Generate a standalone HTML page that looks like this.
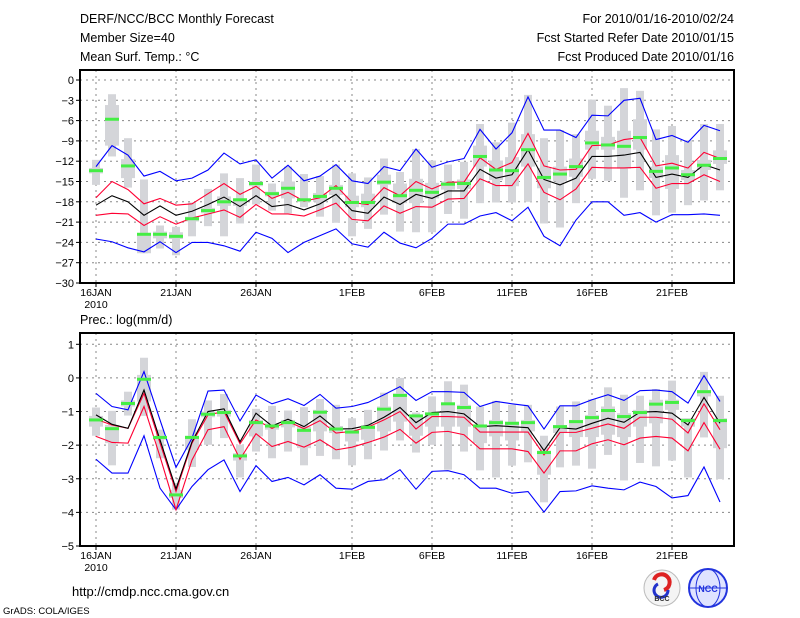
<!DOCTYPE html>
<html><head><meta charset="utf-8"><style>
html,body{margin:0;padding:0;background:#fff;}
svg{display:block;font-family:"Liberation Sans",sans-serif;}
</style></head><body>
<svg id="chart" width="800" height="618" viewBox="0 0 800 618">
<g id="hdr" font-size="12.5" fill="#000">
<text x="80" y="23">DERF/NCC/BCC Monthly Forecast</text>
<text x="80" y="42">Member Size=40</text>
<text x="80" y="61">Mean Surf. Temp.: °C</text>
<text x="734" y="23" text-anchor="end">For 2010/01/16-2010/02/24</text>
<text x="734" y="42" text-anchor="end">Fcst Started Refer Date 2010/01/15</text>
<text x="734" y="61" text-anchor="end">Fcst Produced Date 2010/01/16</text>
<text x="80" y="324">Prec.: log(mm/d)</text>
<text x="72" y="596" font-size="13">http://cmdp.ncc.cma.gov.cn</text>
<text x="3" y="614" font-size="9.5">GrADS: COLA/IGES</text>
</g>
<g>
<circle cx="662" cy="588" r="18" fill="#f4f4f4" stroke="#bbb"/>
<path d="M654 580 a8 8 0 1 1 10 10" fill="none" stroke="#d22" stroke-width="4"/>
<path d="M668 590 a7 7 0 1 1 -10 -6" fill="none" stroke="#23c" stroke-width="3"/>
<text x="662" y="601" font-size="7" text-anchor="middle" font-weight="bold" fill="#333">BCC</text>
</g>
<g>
<circle cx="708" cy="588" r="19" fill="#dfe3ff" stroke="#2233dd" stroke-width="2"/>
<ellipse cx="708" cy="588" rx="12" ry="19" fill="none" stroke="#2233dd"/>
<line x1="689" y1="588" x2="727" y2="588" stroke="#2233dd"/>
<text x="708" y="592" font-size="9" text-anchor="middle" font-weight="bold" fill="#2233dd">NCC</text>
</g>
</svg>
<script>
// ---- temperature data (°C) ----
const days = ["16JAN","17JAN","18JAN","19JAN","20JAN","21JAN","22JAN","23JAN","24JAN","25JAN","26JAN","27JAN","28JAN","29JAN","30JAN","31JAN","1FEB","2FEB","3FEB","4FEB","5FEB","6FEB","7FEB","8FEB","9FEB","10FEB","11FEB","12FEB","13FEB","14FEB","15FEB","16FEB","17FEB","18FEB","19FEB","20FEB","21FEB","22FEB","23FEB","24FEB"];
const xTickLabels = ["16JAN","21JAN","26JAN","1FEB","6FEB","11FEB","16FEB","21FEB"];
const xTickIndex = [0,5,10,16,21,26,31,36];
const tTicks = [0,-3,-6,-9,-12,-15,-18,-21,-24,-27,-30];
const tMean = [-18.5,-17.1,-18,-20,-18.6,-20,-19.4,-18.4,-17.3,-18.7,-17.1,-18.7,-18.4,-19.2,-18.3,-16.9,-19.3,-19.7,-17.3,-18.4,-16.9,-17.5,-16.4,-16.4,-13.2,-14.5,-14,-10.3,-14.7,-15.5,-14.5,-11.3,-11.3,-11.1,-10.7,-14.4,-13.9,-14.4,-12.5,-13.3];
const tRedHi = [-17.4,-15,-16.2,-18.3,-17.5,-18.5,-18.3,-16.8,-15.3,-16.9,-15.7,-17.5,-16.6,-17.9,-17.4,-15.6,-18.1,-18.4,-15.9,-17.1,-15,-16.1,-15.1,-15.1,-11.5,-13.2,-12.2,-7.9,-12.7,-13.3,-13.2,-9.7,-9.6,-8.8,-8.5,-12.7,-12.3,-13,-10.7,-11.6];
const tRedLo = [-20,-19.7,-19.8,-21.5,-20.2,-21.3,-20.4,-19.8,-19.2,-20.3,-18.4,-19.8,-19.8,-20.1,-19.2,-18.2,-20.6,-20.8,-18.6,-19.7,-18.7,-18.8,-17.6,-17.5,-14.6,-15.6,-15.6,-12.4,-16.6,-17.7,-16.1,-12.9,-13,-13,-12.9,-16,-15.3,-15.3,-14,-15];
const tBlueHi = [-12.8,-9.7,-11.1,-14.2,-13.5,-14.9,-14.5,-13.3,-10.8,-12.4,-11.8,-14.5,-12.6,-14.9,-14.2,-12.5,-14.9,-15.3,-12.8,-13.4,-10.2,-12.9,-12.1,-11.6,-7.3,-10.2,-7.8,-2.5,-7.4,-7.4,-8.5,-5.2,-5.3,-3,-2.7,-8.8,-8.2,-9.2,-6.7,-7.5];
const tBlueLo = [-23.5,-23.9,-24.8,-25.4,-23.9,-25.5,-24,-24,-24.5,-25.3,-22.5,-23.4,-25.5,-24,-23,-22,-24.2,-24.7,-22.5,-24.1,-24.8,-23.4,-21.3,-21.3,-20.1,-19.6,-20.8,-18.8,-23.1,-24.5,-20.7,-18,-18,-20,-19.6,-21,-19.9,-19.9,-19.8,-20];
const tGreen = [-13.4,-5.8,-12.7,-22.8,-22.8,-23.1,-20.5,-19.3,-18,-17.7,-15.3,-16.8,-16,-17.7,-17.2,-16,-18.1,-18.1,-15.1,-17.1,-16.3,-16.6,-15.4,-15.3,-11.3,-13.3,-13.4,-10.3,-14.4,-13.9,-12.8,-9.3,-9.6,-9.8,-8.5,-13.5,-13,-14,-12.6,-11.6];
const tBarMax = [-11.8,-2.1,-8.6,-14.7,-21.5,-21.7,-18.1,-16.1,-13.8,-14.5,-12.5,-15.3,-12.8,-13.9,-14.2,-12.5,-13.8,-14.4,-11.6,-13.6,-10.2,-11.9,-12.5,-12.1,-6.5,-9.2,-6.3,-2.2,-8.6,-7.4,-8,-2.9,-3.8,-1.2,-1.6,-7.3,-6.8,-8.9,-6.5,-6.5];
const tBarMin = [-15.5,-11.3,-15.9,-25.6,-24.9,-25.9,-23.1,-21.6,-23.1,-21.2,-18.4,-19.3,-19.7,-18.8,-20.2,-21.1,-23.1,-22,-19.9,-22.4,-22.5,-22.5,-19.8,-20.5,-18.2,-18.1,-18.1,-18,-21.2,-21.8,-18.2,-14.6,-14.9,-17.4,-16.3,-20,-19.6,-18.5,-17.8,-16.3];
const tBoxHi = [-13,-3.7,-11.7,-22.6,-22.4,-22.5,-20.2,-18.9,-17.2,-17.5,-15,-16.5,-15,-17.5,-16.7,-15.5,-17.1,-16.8,-14,-15.3,-14.6,-15.2,-15,-14.7,-9.7,-11.9,-11.4,-8,-13,-12.8,-11.6,-7.5,-8.4,-7.5,-5.8,-12.8,-11.1,-13.3,-11.8,-10.4];
const tBoxLo = [-13.8,-9.7,-14.5,-25.6,-23.4,-23.5,-20.9,-19.7,-18.6,-18.6,-15.7,-17.2,-17.5,-18,-18,-17,-18.8,-18.8,-15.5,-18.2,-18.2,-17.5,-16.2,-16.1,-12.8,-14.8,-15.7,-12.8,-16,-15,-14.3,-10.3,-10.3,-13.1,-10.3,-14.5,-16.1,-14.8,-13.3,-12.4];
// ---- precipitation data (log mm/d) ----
const pTicks = [1,0,-1,-2,-3,-4,-5];
const pMean = [-1.1,-1.38,-1.5,-0.36,-1.84,-3.3,-1.9,-1,-0.92,-1.9,-1.05,-1.43,-1.23,-1.45,-1.13,-1.52,-1.51,-1.41,-1.17,-0.88,-1.33,-1.03,-1,-1.07,-1.45,-1.42,-1.45,-1.48,-2.16,-1.48,-1.52,-1.35,-1.2,-1.32,-1.02,-1,-1.05,-1.4,-0.58,-1.35];
const pRedHi = [-1.23,-1.4,-1.5,-0.46,-1.94,-3.38,-1.94,-1.1,-1,-1.96,-1.25,-1.5,-1.3,-1.51,-1.27,-1.64,-1.59,-1.46,-1.25,-1,-1.52,-1.15,-1.15,-1.17,-1.61,-1.61,-1.61,-1.61,-2.29,-1.62,-1.62,-1.5,-1.37,-1.5,-1.17,-1.17,-1.23,-1.64,-0.77,-1.54];
const pRedLo = [-1.74,-1.92,-1.94,-0.85,-2.34,-3.92,-2.44,-1.54,-1.45,-2.42,-1.66,-2.04,-1.89,-2.06,-1.84,-2.14,-2.06,-1.92,-1.76,-1.53,-1.94,-1.62,-1.59,-1.69,-2.11,-2.11,-2.11,-2.19,-2.83,-2.17,-2.17,-1.96,-1.84,-1.99,-1.79,-1.74,-1.79,-2.17,-1.33,-2.12];
const pBlueHi = [-0.46,-0.85,-0.95,0.19,-1.25,-2.66,-1.79,-0.39,-0.36,-1.28,-0.51,-0.77,-0.62,-0.82,-0.49,-0.9,-0.85,-0.73,-0.5,-0.26,-0.67,-0.41,-0.41,-0.43,-0.85,-0.7,-0.77,-0.83,-1.52,-0.83,-0.83,-0.65,-0.5,-0.67,-0.38,-0.36,-0.41,-0.75,0.07,-0.7];
const pBlueLo = [-2.42,-2.83,-2.83,-1.72,-3.28,-3.92,-3.23,-2.73,-2.44,-3.38,-2.61,-3.08,-2.96,-3.18,-2.88,-3.28,-3.31,-3.08,-3.03,-2.73,-3.31,-2.78,-2.76,-2.88,-3.28,-3.28,-3.43,-3.38,-3.99,-3.38,-3.36,-3.21,-3.28,-3.33,-3.1,-3.23,-3.57,-3.5,-2.65,-3.69];
const pGreen = [-1.25,-1.51,-0.76,-0.04,-1.77,-3.48,-1.77,-1.08,-1.03,-2.32,-1.33,-1.43,-1.33,-1.56,-1.02,-1.52,-1.61,-1.47,-0.93,-0.52,-1.13,-1.07,-0.77,-0.88,-1.43,-1.33,-1.35,-1.33,-2.22,-1.45,-1.3,-1.18,-0.97,-1.15,-1.03,-0.78,-0.73,-1.27,-0.41,-1.27];
const pBarMax = [-0.88,-0.98,-0.41,0.6,-1.54,-3.13,-1.23,-0.67,-0.48,-1.99,-0.92,-0.83,-0.97,-0.87,-0.63,-0.8,-1.2,-0.95,-0.44,0,-1.03,-0.55,-0.1,-0.2,-0.85,-0.68,-0.8,-0.8,-1.72,-0.85,-0.7,-0.63,-0.28,-0.5,-0.53,-0.33,-0.08,-1.2,0.18,-0.53];
const pBarMin = [-1.72,-2.6,-1.12,-1.13,-2.39,-3.92,-2.65,-1.99,-1.79,-2.96,-2.19,-2.39,-2.19,-2.6,-2.32,-2.42,-2.6,-2.42,-2.16,-1.86,-2.22,-1.99,-2.73,-2.19,-2.75,-2.96,-2.61,-2.51,-3.7,-2.66,-2.61,-2.7,-2.29,-3.05,-2.53,-2.63,-2.46,-2.96,-1.77,-3.01];
const pBoxHi = [-1.13,-1.4,-0.67,0.09,-1.74,-3.33,-1.72,-1,-0.95,-2.24,-1.25,-1.35,-1.25,-1.45,-0.95,-1.43,-1.54,-1.4,-0.85,-0.46,-1.13,-1.05,-0.75,-0.8,-1.4,-1.25,-1.3,-1.25,-2.16,-1.4,-1.25,-1.1,-0.85,-1.05,-0.95,-0.65,-0.65,-1.2,-0.36,-1.2];
const pBoxLo = [-1.45,-1.94,-0.85,-0.7,-1.84,-3.57,-2.14,-1.17,-1.15,-2.46,-1.74,-1.54,-1.47,-2.09,-1.59,-1.64,-1.89,-1.84,-1.59,-1.3,-1.72,-1.45,-1.45,-1.45,-1.94,-1.74,-1.86,-1.59,-2.88,-1.64,-1.76,-1.76,-1.69,-1.76,-1.45,-1.35,-0.95,-1.45,-0.55,-2.09];

const NS="http://www.w3.org/2000/svg";
const svg=document.getElementById('chart');
const X0=80,X1=734;
function xScale(i){return 96+16*i;}
function mk(tag,attrs,parent){const e=document.createElementNS(NS,tag);for(const k in attrs)e.setAttribute(k,attrs[k]);(parent||svg).appendChild(e);return e;}

function panel(cfg){
  const {top,bottom,v0,y0,v1,y1,ticks,name,mean,redHi,redLo,blueHi,blueLo,green,barMax,barMin,boxHi,boxLo}=cfg;
  const yScale=v=>y0+(v-v0)*(y1-y0)/(v1-v0);
  const g=mk('g',{});
  
  
  // grid
  ticks.forEach(t=>{
    const y=yScale(t);
    const l=mk('line',{x1:X0,x2:X1,y1:y,y2:y,stroke:'#888','stroke-dasharray':'2,4','stroke-width':1},g);
    
    
    const tk=mk('line',{x1:X0-4,x2:X0,y1:y,y2:y,stroke:'#000'},g);
    
    
    const tx=mk('text',{x:X0-6,y:y+4,'text-anchor':'end','font-size':'11'},g);
    tx.textContent=(t<0?'\u2212'+(-t):String(t));
    
    
  });
  xTickIndex.forEach((di,k)=>{
    const x=xScale(di);
    const l=mk('line',{x1:x,x2:x,y1:top,y2:bottom,stroke:'#888','stroke-dasharray':'2,4'},g);
    
    
    const tk=mk('line',{x1:x,x2:x,y1:bottom,y2:bottom+4,stroke:'#000'},g);
    
    
    const tx=mk('text',{x:x,y:bottom+13,'text-anchor':'middle','font-size':'10.5'},g);
    tx.textContent=xTickLabels[k];
    
    
  });
  const yr=mk('text',{x:xScale(0),y:bottom+25,'text-anchor':'middle','font-size':'10.5'},g);
  yr.textContent='2010';
  
  
  // bars
  days.forEach((d,i)=>{
    const x=xScale(i);
    const b=mk('rect',{x:x-4,y:yScale(barMax[i]),width:8,height:Math.max(1,yScale(barMin[i])-yScale(barMax[i])),fill:'#d4d5d9'},g);
    
    
    const bx=mk('rect',{x:x-7,y:yScale(boxHi[i]),width:14,height:Math.max(1,yScale(boxLo[i])-yScale(boxHi[i])),fill:'#d4d5d9'},g);
    
    
  });
  const series=[[blueHi,'#0000ff','upper-bound-line'],[blueLo,'#0000ff','lower-bound-line'],[redHi,'#ff0033','upper-std-line'],[redLo,'#ff0033','lower-std-line'],[mean,'#000','ensemble-mean-line']];
  series.forEach(([arr,c,n])=>{
    const p=mk('polyline',{points:arr.map((v,i)=>xScale(i)+','+yScale(v)).join(' '),fill:'none',stroke:c,'stroke-width':1.1},g);
    
    
  });
  green.forEach((v,i)=>{
    const r=mk('rect',{x:xScale(i)-7,y:yScale(v)-1.5,width:14,height:3,fill:'#44ee44'},g);
    
    
  });
  const fr=mk('rect',{x:X0,y:top,width:X1-X0,height:bottom-top,fill:'none',stroke:'#000','stroke-width':2},g);
  
  
}
panel({top:70,bottom:283,v0:0,y0:80,v1:-30,y1:283,ticks:tTicks,name:'temperature',mean:tMean,redHi:tRedHi,redLo:tRedLo,blueHi:tBlueHi,blueLo:tBlueLo,green:tGreen,barMax:tBarMax,barMin:tBarMin,boxHi:tBoxHi,boxLo:tBoxLo});
panel({top:333,bottom:546,v0:1,y0:344.3,v1:-5,y1:546,ticks:pTicks,name:'precipitation',mean:pMean,redHi:pRedHi,redLo:pRedLo,blueHi:pBlueHi,blueLo:pBlueLo,green:pGreen,barMax:pBarMax,barMin:pBarMin,boxHi:pBoxHi,boxLo:pBoxLo});
</script>
</body></html>
